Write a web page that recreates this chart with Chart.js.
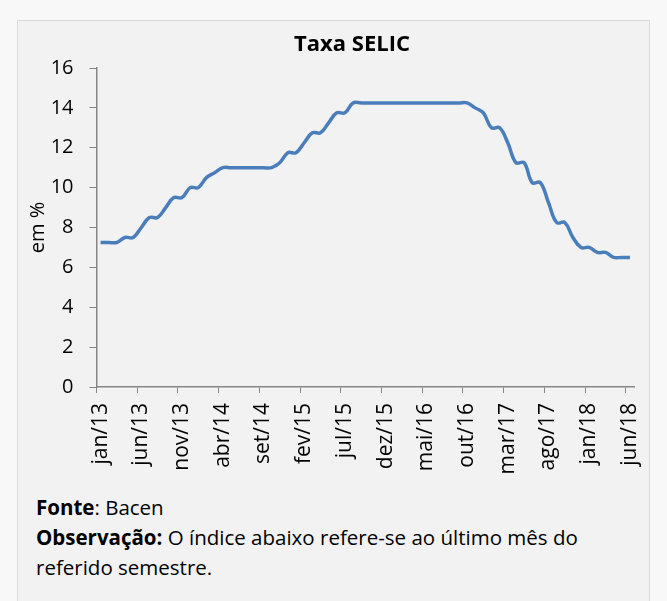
<!DOCTYPE html>
<html lang="pt-BR">
<head>
<meta charset="utf-8">
<title>Taxa SELIC</title>
<script src="https://cdn.jsdelivr.net/npm/chart.js@4.4.1/dist/chart.umd.min.js"></script>
<style>
    html, body { margin: 0; padding: 0; }
    body {
        width: 667px;
        height: 601px;
        background: #f8f8f8;
        position: relative;
        overflow: hidden;
        font-family: "Open Sans", sans-serif;
    }
    .caixa {
        position: absolute;
        left: 17px;
        top: 20px;
        width: 633px;
        height: 620px;
        background: #f2f2f2;
        border: 1px solid #d9d9d9;
        box-sizing: border-box;
    }
    .grafico {
        position: absolute;
        left: 0;
        top: 0;
        width: 667px;
        height: 480px;
    }
    .nota {
        position: absolute;
        left: 36px;
        top: 492px;
        font-size: 20.5px;
        line-height: 30px;
        color: #000;
        white-space: nowrap;
    }
</style>
</head>
<body>
<div class="caixa"></div>
<div class="grafico"><canvas id="graficoSelic"></canvas></div>
<div class="nota">
    <b>Fonte</b>: Bacen<br>
    <b>Observação:</b> O índice abaixo refere-se ao último mês do<br>
    referido semestre.
</div>

<script>
// DADOS
const meses = [
    'jan/13', 'fev/13', 'mar/13', 'abr/13', 'mai/13', 'jun/13', 'jul/13', 'ago/13', 'set/13', 'out/13', 'nov/13', 'dez/13',
    'jan/14', 'fev/14', 'mar/14', 'abr/14', 'mai/14', 'jun/14', 'jul/14', 'ago/14', 'set/14', 'out/14', 'nov/14', 'dez/14',
    'jan/15', 'fev/15', 'mar/15', 'abr/15', 'mai/15', 'jun/15', 'jul/15', 'ago/15', 'set/15', 'out/15', 'nov/15', 'dez/15',
    'jan/16', 'fev/16', 'mar/16', 'abr/16', 'mai/16', 'jun/16', 'jul/16', 'ago/16', 'set/16', 'out/16', 'nov/16', 'dez/16',
    'jan/17', 'fev/17', 'mar/17', 'abr/17', 'mai/17', 'jun/17', 'jul/17', 'ago/17', 'set/17', 'out/17', 'nov/17', 'dez/17',
    'jan/18', 'fev/18', 'mar/18', 'abr/18', 'mai/18', 'jun/18'
];

const selic = [
    7.25, 7.25, 7.25, 7.5, 7.5, 8.0, 8.5, 8.5, 9.0, 9.5, 9.5, 10.0,
    10.0, 10.5, 10.75, 11.0, 11.0, 11.0, 11.0, 11.0, 11.0, 11.0, 11.25, 11.75,
    11.75, 12.25, 12.75, 12.75, 13.25, 13.75, 13.75, 14.25, 14.25, 14.25, 14.25, 14.25,
    14.25, 14.25, 14.25, 14.25, 14.25, 14.25, 14.25, 14.25, 14.25, 14.25, 14.0, 13.75,
    13.0, 13.0, 12.25, 11.25, 11.25, 10.25, 10.25, 9.25, 8.25, 8.25, 7.5, 7.0,
    7.0, 6.75, 6.75, 6.5, 6.5, 6.5
];

const ticksY = [0, 2, 4, 6, 8, 10, 12, 14, 16];

const titulo = 'Taxa SELIC';

// ESTILOS
const fonte = "'Open Sans', sans-serif";
const corEixo = '#868686';
const passoRotulo = 5; // um rotulo a cada 5 meses

// Titulo desenhado a mao (no Excel ele fica um pouco deslocado do centro)
const tituloPlugin = {
    id: 'tituloSelic',
    afterDraw(chart) {
        const ctx = chart.ctx;
        ctx.save();
        ctx.font = 'bold 22px ' + fonte;
        ctx.fillStyle = '#000';
        ctx.textAlign = 'center';
        ctx.textBaseline = 'middle';
        ctx.fillText(titulo, 352, 45);
        ctx.restore();
    }
};

new Chart(document.getElementById('graficoSelic'), {
    type: 'line',
    data: {
        labels: meses,
        datasets: [{
            label: titulo,
            data: selic,
            borderColor: '#4a7ebb',
            borderWidth: 3.5,
            pointRadius: 0,
            tension: 0.4,
            fill: false
        }]
    },
    options: {
        responsive: true,
        maintainAspectRatio: false,
        animation: false,
        layout: {
            padding: { left: 23, right: 33, top: 68, bottom: 0 }
        },
        plugins: {
            legend: { display: false },
            tooltip: { enabled: false },
            title: { display: false }
        },
        scales: {
            x: {
                offset: true,
                grid: {
                    offset: true,
                    drawOnChartArea: false,
                    tickLength: 6,
                    color: (ctx) => ctx.index % passoRotulo === 0 ? corEixo : 'transparent'
                },
                border: { color: corEixo, width: 1.5 },
                ticks: {
                    autoSkip: false,
                    minRotation: 90,
                    maxRotation: 90,
                    padding: 10,
                    color: '#000',
                    font: { family: fonte, size: 21 },
                    callback: function (valor, i) {
                        return i % passoRotulo === 0 ? this.getLabelForValue(valor) : '';
                    }
                },
                afterFit: (escala) => { escala.height = 93; }
            },
            y: {
                min: ticksY[0],
                max: ticksY[ticksY.length - 1],
                afterBuildTicks: (escala) => { escala.ticks = ticksY.map(v => ({ value: v })); },
                grid: {
                    drawOnChartArea: false,
                    tickLength: 7,
                    color: corEixo
                },
                border: { color: corEixo, width: 1.5 },
                ticks: {
                    padding: 16,
                    color: '#000',
                    font: { family: fonte, size: 20 }
                },
                title: {
                    display: true,
                    text: 'em %',
                    color: '#000',
                    font: { family: fonte, size: 20 },
                    padding: { top: 3, bottom: 0 }
                },
                afterFit: (escala) => { escala.width = 73.5; }
            }
        }
    },
    plugins: [tituloPlugin]
});
</script>
</body>
</html>
